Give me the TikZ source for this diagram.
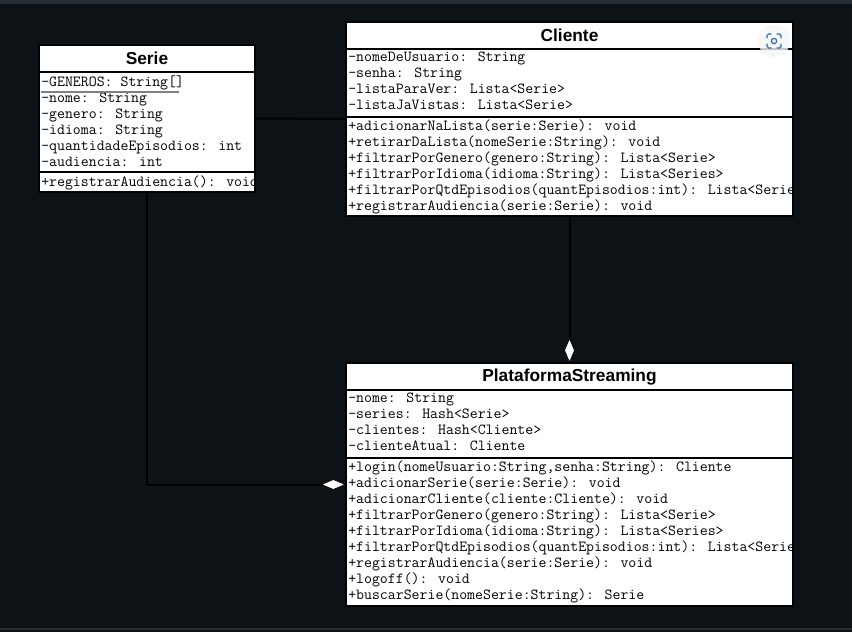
\documentclass[tikz,border=0pt]{standalone}
\usepackage{fontspec}
\setmainfont{Liberation Sans}
\usetikzlibrary{arrows.meta}
\definecolor{screendark}{rgb}{0.05, 0.07, 0.09}
\definecolor{screenline}{rgb}{0.15, 0.18, 0.21}
\definecolor{lensblue}{rgb}{0.15, 0.42, 0.72}
\tikzset{
    x = 0.75pt, y = -0.75pt,
    classbox/.style = {
        draw = black, line width = 1.5pt, fill = white,
        inner sep = 0pt, outer sep = 0pt
    },
    classname/.style = {
        font = \fontsize{13}{15}\selectfont\bfseries, text = black
    },
    members/.style = {
        anchor = north west, align = left, inner sep = 0pt, text = black,
        font = \fontsize{11.55}{12}\selectfont\ttfamily
    },
    divider/.style = {line width = 1.5pt, black},
    aggregation/.style = {
        line width = 1.5pt, black,
        -{Diamond[fill=white, length=19pt, width=8pt, line width=0.5pt]}
    },
    association/.style = {line width = 1.5pt, black}
}

\begin{document}
\begin{tikzpicture}

    % Background
    \fill[screendark] (0,0) rectangle (852,632);
    \fill[screenline] (0,0) rectangle (852,3.5);
    \fill[screenline] (0,628) rectangle (852,629.5);
    \useasboundingbox (0,0) rectangle (852,632);

    % Class boxes
    \node[classbox, minimum width = 162pt, minimum height = 110.25pt] (serie) at (147,118.5) {};
    \node[classbox, minimum width = 335.25pt, minimum height = 145.5pt] (cliente) at (569.5,119) {};
    \node[classbox, minimum width = 335.25pt, minimum height = 182.25pt] (plataforma) at (569.5,484.5) {};

    % Connectors
    \draw[association] (serie.east) -- (cliente.west);
    \draw[aggregation] (cliente.south) -- (plataforma.north);
    \draw[aggregation] (serie.south) |- (plataforma.west);

    % Serie
    \begin{scope}
        \clip (serie.north west) rectangle (serie.south east);
        \node[classname] (serieName) at (147,58) {Serie};
        \draw[divider] (39,72) -- (255,72);
        \draw[divider] (39,172) -- (255,172);
        \node[members] (serieAttrs) at (41,75.5) {-GENEROS: String[]\\-nome: String\\-genero: String\\-idioma: String\\-quantidadeEpisodios: int\\-audiencia: int};
        \draw[gray, line width = 1pt] (41,92) -- (179,92);
        \node[members] (serieOps) at (41,175.5) {+registrarAudiencia(): void};
    \end{scope}

    % Cliente
    \begin{scope}
        \clip (cliente.north west) rectangle (cliente.south east);
        \node[classname] (clienteName) at (569.5,35) {Cliente};
        \draw[divider] (346,49) -- (793,49);
        \draw[divider] (346,117) -- (793,117);
        \node[members] (clienteAttrs) at (348,51.5) {-nomeDeUsuario: String\\-senha: String\\-listaParaVer: Lista<Serie>\\-listaJaVistas: Lista<Serie>};
        \node[members] (clienteOps) at (348,119.5) {+adicionarNaLista(serie:Serie): void\\+retirarDaLista(nomeSerie:String): void\\+filtrarPorGenero(genero:String): Lista<Serie>\\+filtrarPorIdioma(idioma:String): Lista<Series>\\+filtrarPorQtdEpisodios(quantEpisodios:int): Lista<Series>\\+registrarAudiencia(serie:Serie): void};
    \end{scope}

    % PlataformaStreaming
    \begin{scope}
        \clip (plataforma.north west) rectangle (plataforma.south east);
        \node[classname] (plataformaName) at (569.5,377) {PlataformaStreaming};
        \draw[divider] (346,390) -- (793,390);
        \draw[divider] (346,458) -- (793,458);
        \node[members] (plataformaAttrs) at (348,392.5) {-nome: String\\-series: Hash<Serie>\\-clientes: Hash<Cliente>\\-clienteAtual: Cliente};
        \node[members] (plataformaOps) at (348,460.5) {+login(nomeUsuario:String,senha:String): Cliente\\+adicionarSerie(serie:Serie): void\\+adicionarCliente(cliente:Cliente): void\\+filtrarPorGenero(genero:String): Lista<Serie>\\+filtrarPorIdioma(idioma:String): Lista<Series>\\+filtrarPorQtdEpisodios(quantEpisodios:int): Lista<Series>\\+registrarAudiencia(serie:Serie): void\\+logoff(): void\\+buscarSerie(nomeSerie:String): Serie};
    \end{scope}

    % Lens icon
    \fill[gray!8, opacity = 0.8] (774,41) circle (12pt);
    \draw[lensblue, line width = 0.9pt] (774,41) circle (2pt);
    \draw[lensblue, line width = 0.9pt, line cap = round, rounded corners = 1.2pt] (767,38) -- (767,34) -- (771,34);
    \draw[lensblue, line width = 0.9pt, line cap = round, rounded corners = 1.2pt] (781,38) -- (781,34) -- (777,34);
    \draw[lensblue, line width = 0.9pt, line cap = round, rounded corners = 1.2pt] (767,44) -- (767,48) -- (771,48);
    \draw[lensblue, line width = 0.9pt, line cap = round, rounded corners = 1.2pt] (781,44) -- (781,48) -- (777,48);

\end{tikzpicture}
\end{document}
